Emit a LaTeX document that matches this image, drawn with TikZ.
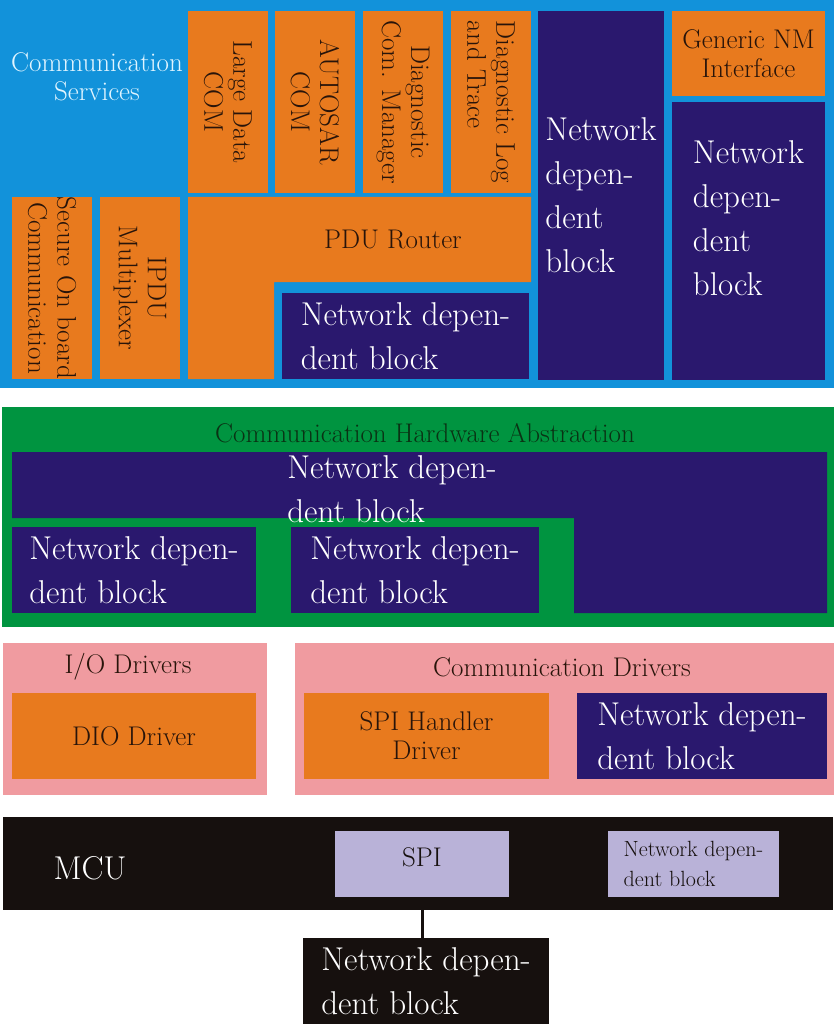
\documentclass[tikz,border=0pt]{standalone}
\usepackage{tikz}
\usetikzlibrary{positioning}

\definecolor{csblue}{RGB}{18,146,218}
\definecolor{csorange}{RGB}{232,122,30}
\definecolor{netblue}{RGB}{42,24,110}
\definecolor{hwgreen}{RGB}{0,148,64}
\definecolor{drvpink}{RGB}{240,155,160}
\definecolor{mcublack}{RGB}{22,16,14}
\definecolor{periph}{RGB}{185,178,216}
\definecolor{darktext}{RGB}{40,20,10}
\definecolor{cstext}{RGB}{225,245,255}
\definecolor{hwtext}{RGB}{10,50,20}

\begin{document}
\begin{tikzpicture}[x=1pt,y=-1pt]
                \tikzstyle{box}=[inner sep=0pt, outer sep=0pt, align=center]
                \tikzstyle{area}=[box, anchor=north west]
                \tikzstyle{comp}=[box, fill=csorange, text=darktext, font=\fontsize{27}{29}\selectfont]
                \tikzstyle{vcomp}=[comp, rotate=-90, minimum width=182, minimum height=80]
                \tikzstyle{netbox}=[box, align=left, fill=netblue, text=white, font=\fontsize{33}{44}\selectfont]
                \tikzstyle{nettext}=[box, align=left, text=white, font=\fontsize{33}{44}\selectfont]
                \tikzstyle{lbl}=[box, font=\fontsize{27}{29}\selectfont]
                \tikzstyle{hw}=[box, fill=periph, text=mcublack, minimum height=66]

                \useasboundingbox (0,0) rectangle (836,1024);

                \node[area, fill=csblue, minimum width=834, minimum height=388] (cs) at (0,0) {};
                \node[lbl, text=cstext] (cslbl) at (97,77) {Communication\\Services};
                \node[vcomp] (ldcom) at (228,102) {Large Data\\COM};
                \node[vcomp] (acom) at (315,102) {AUTOSAR\\COM};
                \node[vcomp] (dcm) at (403,102) {Diagnostic\\Com. Manager};
                \node[vcomp, align=left] (dlt) at (491,102) {Diagnostic Log\\and Trace};
                \node[netbox, minimum width=126, minimum height=369] (nettall) at (601,195.5) {Network\\depen-\\dent\\block};
                \node[comp, minimum width=153, minimum height=85] (gnm) at (748.5,53.5) {Generic NM\\Interface};
                \node[netbox, minimum width=153, minimum height=278] (netnm) at (748.5,241) {};
                \node[nettext] (netnmtxt) at ([yshift=23pt]netnm.center) {Network\\depen-\\dent\\block};
                \node[vcomp] (secoc) at (52,288) {Secure On board\\Communication};
                \node[vcomp] (ipdu) at (140,288) {IPDU\\Multiplexer};
                \fill[csorange] (188,197) -- (531,197) -- (531,282) -- (274,282) -- (274,379) -- (188,379) -- cycle;
                \node[lbl, text=darktext] (pdur) at (393,239) {PDU Router};
                \node[netbox, minimum width=247, minimum height=86] (netpdu) at (405.5,336) {Network depen-\\dent block};

                \node[area, fill=hwgreen, minimum width=832, minimum height=220] (cha) at (2,407) {};
                \node[lbl, text=hwtext] (chalbl) at (425,433) {Communication Hardware Abstraction};
                \fill[netblue] (12,452) -- (827,452) -- (827,613) -- (574,613) -- (574,518) -- (12,518) -- cycle;
                \node[nettext] (nethwtxt) at (392,489) {Network depen-\\dent block};
                \node[netbox, minimum width=244, minimum height=86] (nethwa) at (134,570) {Network depen-\\dent block};
                \node[netbox, minimum width=248, minimum height=86] (nethwb) at (415,570) {Network depen-\\dent block};

                \node[area, fill=drvpink, minimum width=264, minimum height=152] (iod) at (3,643) {};
                \node[lbl, text=darktext] (iodlbl) at (128,667) {I/O Drivers};
                \node[comp, minimum width=244, minimum height=86] (dio) at (134,736) {DIO Driver};
                \node[area, fill=drvpink, minimum width=539, minimum height=152] (cdrv) at (295,643) {};
                \node[lbl, text=darktext] (cdrvlbl) at (562,667) {Communication Drivers};
                \node[comp, minimum width=245, minimum height=86] (spih) at (426.5,736) {SPI Handler\\Driver};
                \node[netbox, minimum width=250, minimum height=86] (netdrv) at (702,736) {Network depen-\\dent block};

                \node[area, fill=mcublack, minimum width=830, minimum height=93] (mcu) at (3,817) {};
                \node[box, text=white, font=\fontsize{33}{36}\selectfont] (mculbl) at (90,868) {MCU};
                \node[hw, lbl, minimum width=174, text depth=14pt] (spi) at (422,864) {SPI};
                \node[hw, align=left, font=\fontsize{22}{30}\selectfont, minimum width=171] (netmcu) at (693.5,864) {Network depen-\\dent block};
                \node[netbox, fill=mcublack, minimum width=246, minimum height=86] (netext) at (426,981) {Network depen-\\dent block};

                \draw[line width=3pt, mcublack] (spi.south) -- (spi.south |- netext.north);
            \end{tikzpicture}
\end{document}
